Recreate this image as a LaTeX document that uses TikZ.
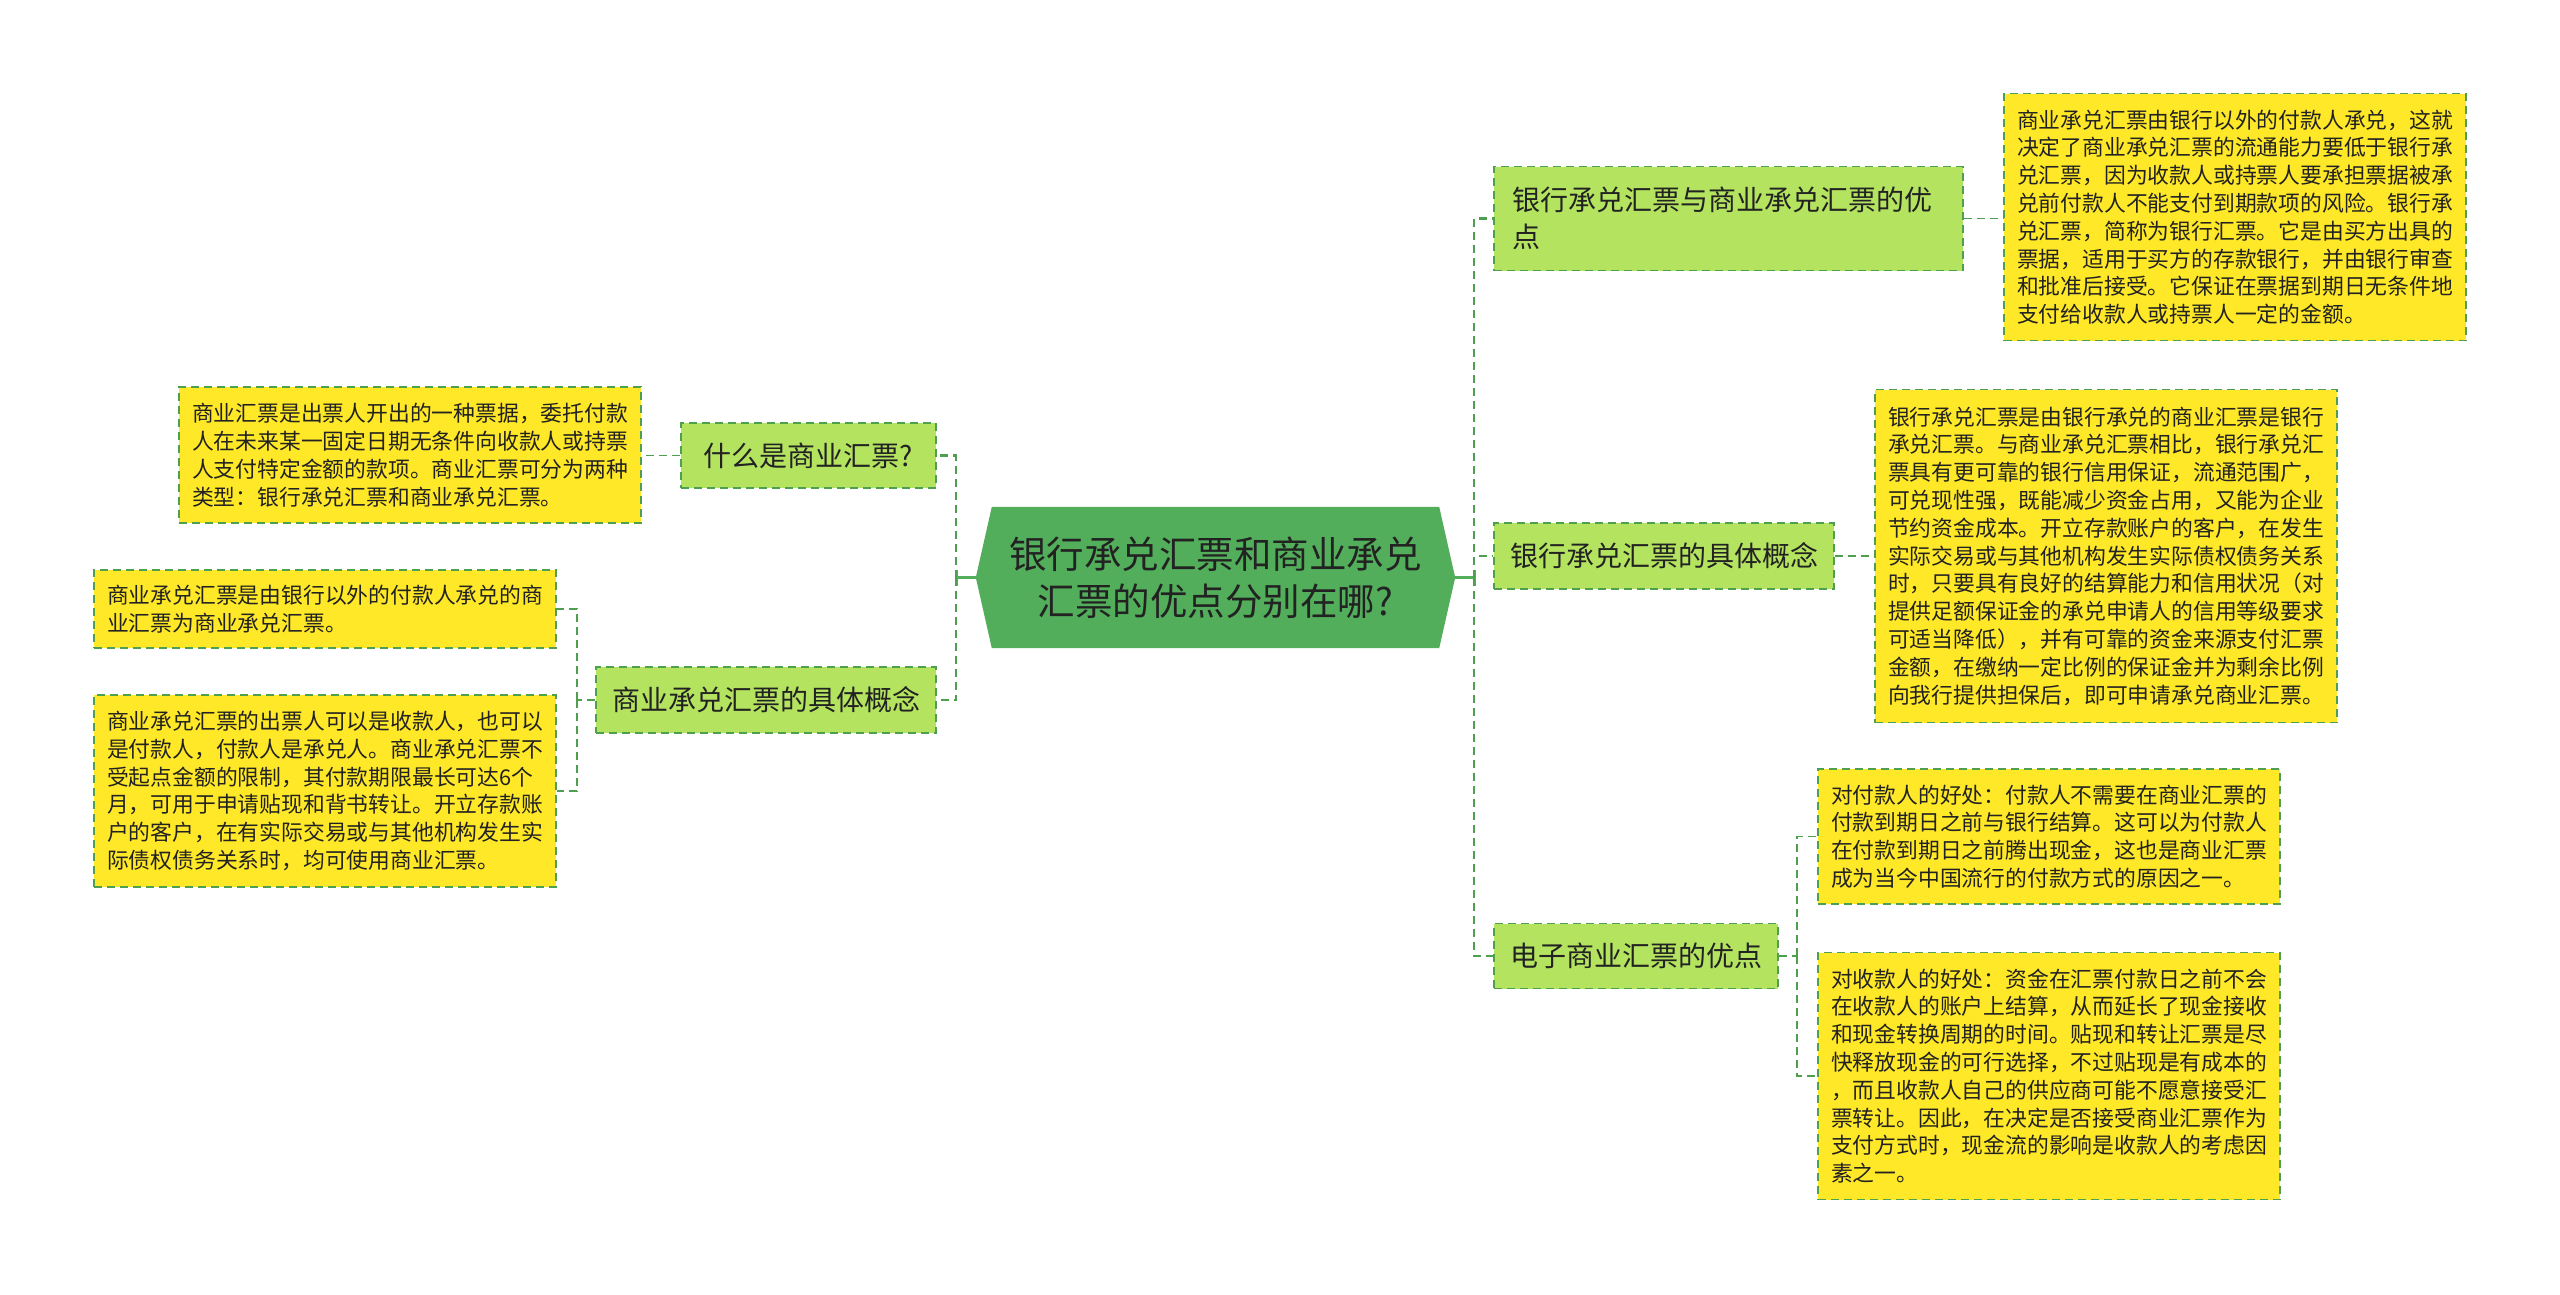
\documentclass[tikz,border=0pt]{standalone}
\usepackage{fontspec}
\setmainfont{Noto Sans CJK SC}
\usetikzlibrary{backgrounds}
\definecolor{cgreen}{RGB}{82,174,90}
\definecolor{lgreen}{RGB}{180,227,96}
\definecolor{yfill}{RGB}{255,232,40}
\definecolor{dgreen}{RGB}{78,160,78}
\definecolor{txt}{RGB}{34,34,34}
\tikzset{
 lvone/.style={draw=dgreen, fill=lgreen, line width=1.8pt, dash pattern=on 8pt off 5pt, inner sep=0pt, text=txt, font=\fontsize{28}{37}\selectfont},
 ybx/.style={draw=dgreen, fill=yfill, line width=1.6pt, dash pattern=on 8pt off 5pt, inner xsep=13pt, inner ysep=0pt, text width=436pt, minimum width=462pt, align=left, text=txt, font=\fontsize{21.8}{27.8}\selectfont},
 trunk/.style={draw=dgreen, line width=2.5pt, dash pattern=on 8pt off 5pt},
 solidc/.style={draw=cgreen, line width=3pt},
 twig/.style={draw=dgreen, line width=1.6pt, dash pattern=on 8pt off 5pt},
}
\begin{document}
\begin{tikzpicture}[x=1pt,y=-1pt]
\useasboundingbox (0,0) rectangle (2560,1294);
% central
\node[minimum width=479pt, minimum height=141pt, inner sep=0pt, align=center, text=txt, font=\fontsize{37.5}{47}\selectfont] (c) at (1215.5,577.5) {银行承兑汇票和商业承兑\\汇票的优点分别在哪?};
\begin{scope}[on background layer]
\fill[white] (0,0) rectangle (2560,1294);
\fill[cgreen] ([xshift=16pt]c.north west) -- ([xshift=-16pt]c.north east) -- (c.east) -- ([xshift=-16pt]c.south east) -- ([xshift=16pt]c.south west) -- (c.west) -- cycle;
\end{scope}
% level one
\node[lvone, minimum width=255pt, minimum height=65pt] (L1) at (808.5,455.5) {什么是商业汇票?};
\node[lvone, minimum width=340pt, minimum height=66pt] (L2) at (766,700) {商业承兑汇票的具体概念};
\node[lvone, minimum width=469pt, minimum height=104pt, inner xsep=18pt, text width=433pt, align=left] (R1) at (1728.5,218.5) {银行承兑汇票与商业承兑汇票的优\\点};
\node[lvone, minimum width=340pt, minimum height=66pt] (R2) at (1664,556) {银行承兑汇票的具体概念};
\node[lvone, minimum width=284pt, minimum height=65pt] (R3) at (1636,956) {电子商业汇票的优点};
% yellow boxes
\node[ybx, minimum height=136pt] (B1) at (410,455) {商业汇票是出票人开出的一种票据，委托付款\\人在未来某一固定日期无条件向收款人或持票\\人支付特定金额的款项。商业汇票可分为两种\\类型：银行承兑汇票和商业承兑汇票。};
\node[ybx, minimum height=78pt] (B2) at (325,609) {商业承兑汇票是由银行以外的付款人承兑的商\\业汇票为商业承兑汇票。};
\node[ybx, minimum height=192pt] (B3) at (325,791) {商业承兑汇票的出票人可以是收款人，也可以\\是付款人，付款人是承兑人。商业承兑汇票不\\受起点金额的限制，其付款期限最长可达6个\\月，可用于申请贴现和背书转让。开立存款账\\户的客户，在有实际交易或与其他机构发生实\\际债权债务关系时，均可使用商业汇票。};
\node[ybx, minimum height=247pt] (RB1) at (2235,217) {商业承兑汇票由银行以外的付款人承兑，这就\\决定了商业承兑汇票的流通能力要低于银行承\\兑汇票，因为收款人或持票人要承担票据被承\\兑前付款人不能支付到期款项的风险。银行承\\兑汇票，简称为银行汇票。它是由买方出具的\\票据，适用于买方的存款银行，并由银行审查\\和批准后接受。它保证在票据到期日无条件地\\支付给收款人或持票人一定的金额。};
\node[ybx, minimum height=333pt] (RB2) at (2106,556) {银行承兑汇票是由银行承兑的商业汇票是银行\\承兑汇票。与商业承兑汇票相比，银行承兑汇\\票具有更可靠的银行信用保证，流通范围广，\\可兑现性强，既能减少资金占用，又能为企业\\节约资金成本。开立存款账户的客户，在发生\\实际交易或与其他机构发生实际债权债务关系\\时，只要具有良好的结算能力和信用状况（对\\提供足额保证金的承兑申请人的信用等级要求\\可适当降低），并有可靠的资金来源支付汇票\\金额，在缴纳一定比例的保证金并为剩余比例\\向我行提供担保后，即可申请承兑商业汇票。};
\node[ybx, minimum height=135pt] (RB3) at (2049,836.5) {对付款人的好处：付款人不需要在商业汇票的\\付款到期日之前与银行结算。这可以为付款人\\在付款到期日之前腾出现金，这也是商业汇票\\成为当今中国流行的付款方式的原因之一。};
\node[ybx, minimum height=247pt] (RB4) at (2049,1076) {对收款人的好处：资金在汇票付款日之前不会\\在收款人的账户上结算，从而延长了现金接收\\和现金转换周期的时间。贴现和转让汇票是尽\\快释放现金的可行选择，不过贴现是有成本的\\，而且收款人自己的供应商可能不愿意接受汇\\票转让。因此，在决定是否接受商业汇票作为\\支付方式时，现金流的影响是收款人的考虑因\\素之一。};
% junction coordinates
\coordinate (tl) at (956,577.5);
\coordinate (tr) at (1474,577.5);
\coordinate (bl) at (577,700);
\coordinate (br) at (1797,956);
% central connectors
\draw[solidc] (c.west) -- (tl);
\draw[solidc] ([yshift=-8pt]tl) -- ([yshift=8pt]tl);
\draw[trunk] (tl) |- (L1.east);
\draw[trunk] (tl) |- (L2.east);
\draw[solidc] (c.east) -- (tr);
\draw[solidc] ([yshift=-8pt]tr) -- ([yshift=8pt]tr);
\draw[trunk] (tr) |- (R1.west);
\draw[trunk] (tr) |- (R2.west);
\draw[trunk] (tr) |- (R3.west);
% level two connectors
\draw[twig] (L1.west) -- (L1.west -| B1.east);
\draw[twig] (L2.west) -- (bl);
\draw[twig] (bl) |- (B2.east);
\draw[twig] (bl) |- (B3.east);
\draw[twig] (R1.east) -- (R1.east -| RB1.west);
\draw[twig] (R2.east) -- (R2.east -| RB2.west);
\draw[twig] (R3.east) -- (br);
\draw[twig] (br) |- (RB3.west);
\draw[twig] (br) |- (RB4.west);
\end{tikzpicture}
\end{document}
